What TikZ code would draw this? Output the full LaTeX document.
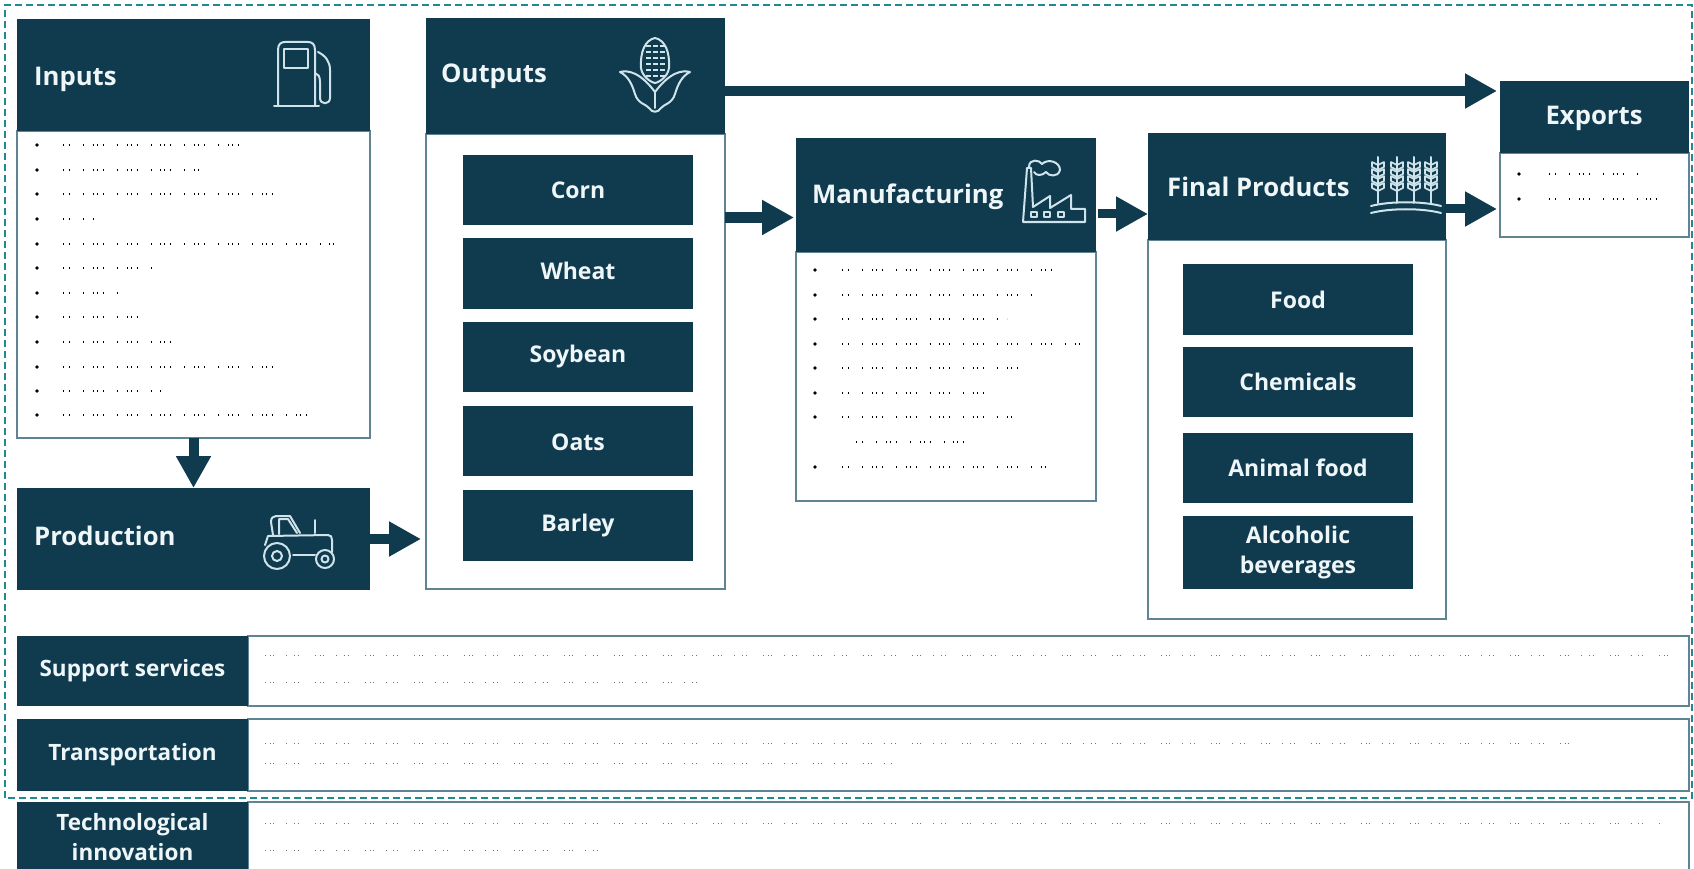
\documentclass[tikz,border=0pt]{standalone}
\usepackage{fontspec}
\setmainfont{Open Sans}
\usetikzlibrary{arrows.meta}
\definecolor{navy}{HTML}{103A4E}
\definecolor{edge}{HTML}{5F8494}
\definecolor{teal2}{HTML}{1F8A90}
\definecolor{iconc}{HTML}{CFE3EA}
\definecolor{txt}{HTML}{EEF6F8}
\tikzset{
  hdr/.style={fill=navy,draw=none,inner sep=0pt,outer sep=0pt},
  bodybox/.style={fill=white,draw=edge,line width=1.5pt,inner sep=0pt,outer sep=0pt},
  title/.style={text=txt,font=\bfseries\fontsize{25.7}{30}\selectfont,inner sep=0pt,anchor=west},
  tag/.style={hdr,text=txt,font=\bfseries\fontsize{23}{30}\selectfont,align=center},
  tagtext/.style={text=txt,font=\bfseries\fontsize{23}{30}\selectfont,inner sep=0pt},
  rowtag/.style={hdr,text=txt,font=\bfseries\fontsize{22.5}{30}\selectfont,align=center},
  blockarrow/.style={draw=navy,line width=10pt,-{Triangle[length=32pt,width=33pt,fill=navy]}},
  icon/.style={draw=iconc,line width=2pt,line cap=round,line join=round},
  speck/.style={draw=black,line width=1.1pt,dash pattern=on 1pt off 5pt on 1pt off 13pt on 0.8pt off 9pt on 1pt off 3pt},
  rowspeck/.style={draw=black!55,line width=1pt,dash pattern=on 1pt off 4pt on 1pt off 2pt on 1pt off 12pt on 0.8pt off 7pt on 1pt off 3pt on 1pt off 16pt},
  frame/.style={draw=teal2,line width=2.2pt,dash pattern=on 7pt off 4pt}
}
\newcommand{\bx}[7]{\node[#2,minimum width={#5-#3},minimum height={#6-#4}] (#1) at ({(#3+#5)/2},{(#4+#6)/2}) {#7};}
\newcommand{\lst}[3]{% bullet x, text x, list of y/end
  \foreach \yy/\ee in {#3}{
    \fill[black] (#1,\yy) circle (1.8pt);
    \draw[speck] (#2,\yy) -- (\ee,\yy);
  }}
\begin{document}
\begin{tikzpicture}[x=1pt,y=-1pt]
\useasboundingbox (0,0) rectangle (1694,869);
\fill[white] (0,0) rectangle (1694,869);
% dashed frame
\draw[frame] (5,798) -- (5,5) -- (1692,5) -- (1692,798) -- cycle;
% boxes
\bx{inB}{bodybox}{17}{131}{370}{438}{}
\bx{inH}{hdr}{17}{19}{370}{131}{}
\bx{prod}{hdr}{17}{488}{370}{590}{}
\bx{outB}{bodybox}{426}{134}{725}{589}{}
\bx{outH}{hdr}{426}{18}{725}{134}{}
\bx{corn}{tag}{463}{155}{693}{225}{Corn}
\bx{wheat}{hdr}{463}{238}{693}{309}{}
\node[tagtext] (wheatT) at (578,271) {Wheat};
\bx{soy}{tag}{463}{322}{693}{392}{Soybean}
\bx{oats}{hdr}{463}{406}{693}{476}{}
\node[tagtext] (oatsT) at (578,442) {Oats};
\bx{barley}{hdr}{463}{490}{693}{561}{}
\node[tagtext] (barleyT) at (578,526) {Barley};
\bx{manB}{bodybox}{796}{252}{1096}{501}{}
\bx{manH}{hdr}{796}{138}{1096}{252}{}
\bx{finB}{bodybox}{1148}{240}{1446}{619}{}
\bx{finH}{hdr}{1148}{133}{1446}{240}{}
\bx{food}{tag}{1183}{264}{1413}{335}{Food}
\bx{chem}{tag}{1183}{347}{1413}{417}{Chemicals}
\bx{anim}{tag}{1183}{433}{1413}{503}{Animal food}
\bx{alco}{tag}{1183}{516}{1413}{589}{Alcoholic\\beverages}
\bx{exB}{bodybox}{1500}{153}{1689}{237}{}
\bx{exH}{hdr}{1500}{81}{1689}{153}{}
\node[title,anchor=center] (exT) at (1594,118) {Exports};
% titles
\node[title] (tInputs) at (34,79) {Inputs};
\node[title] (tOutputs) at (441,76) {Outputs};
\node[title] (tManu) at (812,197) {Manufacturing};
\node[title] (tFinal) at (1167,187) {Final Products};
\node[title] (tProd) at (34,536) {Production};
% bottom rows
\bx{r1B}{bodybox}{248}{636}{1689}{706}{}
\bx{r1}{rowtag}{17}{636}{248}{706}{Support services}
\bx{r2B}{bodybox}{248}{719}{1689}{791}{}
\bx{r2}{rowtag}{17}{719}{248}{791}{Transportation}
\bx{r3B}{bodybox}{248}{802}{1689}{885}{}
\bx{r3}{rowtag}{17}{802}{248}{885}{}
\node[text=txt,font=\bfseries\fontsize{22.5}{30}\selectfont,align=center,inner sep=0pt] (r3t) at (132.5,837) {Technological\\innovation};
% connectors
\draw[blockarrow] (inB.south) -- (prod.north);
\draw[blockarrow] (prod.east) -- ([xshift=-5pt]prod.east -| outB.west);
\draw[blockarrow] ([yshift=-15pt]outH.east) -- ([yshift=26pt,xshift=-3pt]exH.west);
\draw[blockarrow,line width=11pt] ([yshift=144pt]outB.east) -- ([yshift=-22.5pt,xshift=-2pt]manH.west);
\draw[blockarrow,line width=9pt] ([yshift=-19pt,xshift=2pt]manH.east) -- ([yshift=-27.5pt]finH.west);
\draw[blockarrow,line width=9pt] ([yshift=-22.5pt]finH.east) -- ([yshift=-14pt,xshift=-3pt]exB.west);
% illegible list lines, as the reference shows them
\lst{37}{63}{145/247,170/200,194/282,219/95,244/335,268/160,293/120,317/142,342/182,367/282,391/162,415/318}
\lst{815}{842}{270/1058,295/1037,319/1007,344/1082,368/1018,393/997,417/1012,467/1045}
\draw[speck] (856,442) -- (967,442);
\lst{1519}{1549}{174/1641,199/1666}
\foreach \yy/\ee in {655/1670,682/710,743/1570,763/895,823/1660,850/600}{\draw[rowspeck] (265,\yy) -- (\ee,\yy);}
% pump icon
\draw[icon] (278,106) -- (278,50) .. controls (278,44) and (281,42) .. (285,42) -- (308,42) .. controls (312,42) and (315,44) .. (315,50) -- (315,106);
\draw[icon] (274,106) -- (319,106);
\draw[icon] (284,49) rectangle (308,68);
\draw[icon] (318,52) .. controls (326,56) and (330,62) .. (330,70) -- (330,98) .. controls (330,105) and (320,105) .. (320,98) -- (320,82) .. controls (320,76) and (318,74) .. (315,73);
% corn icon
\draw[icon] (655,38) .. controls (645,40) and (640,52) .. (641,68) .. controls (642,76) and (650,82) .. (655,83) .. controls (660,82) and (668,76) .. (669,68) .. controls (670,52) and (665,40) .. (655,38);
\foreach \yy in {46,52,58,64,70,76}{\foreach \xx in {648,655,662}{\fill[iconc] (\xx-2.5,\yy-0.7) rectangle (\xx+2.5,\yy+0.7);}}
\draw[icon] (620,72) .. controls (628,70) and (640,72) .. (655,92) .. controls (670,72) and (682,70) .. (690,72) .. controls (682,76) and (678,84) .. (675,94) .. controls (672,104) and (664,104) .. (661,108) .. controls (658,113) and (652,113) .. (649,108) .. controls (646,104) and (638,104) .. (635,94) .. controls (632,84) and (628,76) .. (620,72);
\draw[icon] (655,92) -- (655,108);
% factory icon
\draw[icon] (1023,222) -- (1085,222) -- (1085,209) -- (1071,209) -- (1071,195) -- (1050,208) -- (1050,196) -- (1033,207) -- (1031,168) -- (1027,168) -- (1023,222);
\foreach \xx in {1031,1044,1058}{\draw[icon,line width=1.5pt] (\xx,212) rectangle +(6,5);}
\draw[icon] (1029,167) .. controls (1029,158) and (1040,160) .. (1042,164) .. controls (1048,158) and (1060,162) .. (1060,170) .. controls (1058,178) and (1048,176) .. (1046,172) .. controls (1042,176) and (1036,176) .. (1034,172);
% wheat icon
\foreach \xx in {1378,1397,1414,1431}{
  \draw[icon] (\xx,157) -- (\xx,203);
  \foreach \yy in {165,172,179,186}{
    \draw[icon,line width=1.6pt] (\xx-6,\yy-3) -- (\xx-6,\yy+2) -- (\xx,\yy+5) -- (\xx+6,\yy+2) -- (\xx+6,\yy-3) -- (\xx,\yy) -- cycle;
  }
}
\draw[icon] (1371,206) .. controls (1390,201) and (1422,201) .. (1441,206);
\draw[icon] (1371,213) .. controls (1390,208) and (1422,208) .. (1441,213);
% tractor icon
\draw[icon] (277,556) circle (13pt);
\draw[icon] (277,556) circle (5pt);
\draw[icon] (325,559) circle (9pt);
\draw[icon] (325,559) circle (3.5pt);
\draw[icon] (265,545) -- (268,536) -- (328,535) .. controls (331,535) and (332,537) .. (332,540) -- (332,552);
\draw[icon] (273,535) -- (271,522) .. controls (271,518) and (273,516) .. (276,516) -- (290,516) -- (300,533);
\draw[icon] (279,534) -- (279,519) -- (288,519) -- (297,533);
\draw[icon] (315,533) -- (315,520);
\draw[icon] (293,555) -- (315,555);
\end{tikzpicture}
\end{document}
